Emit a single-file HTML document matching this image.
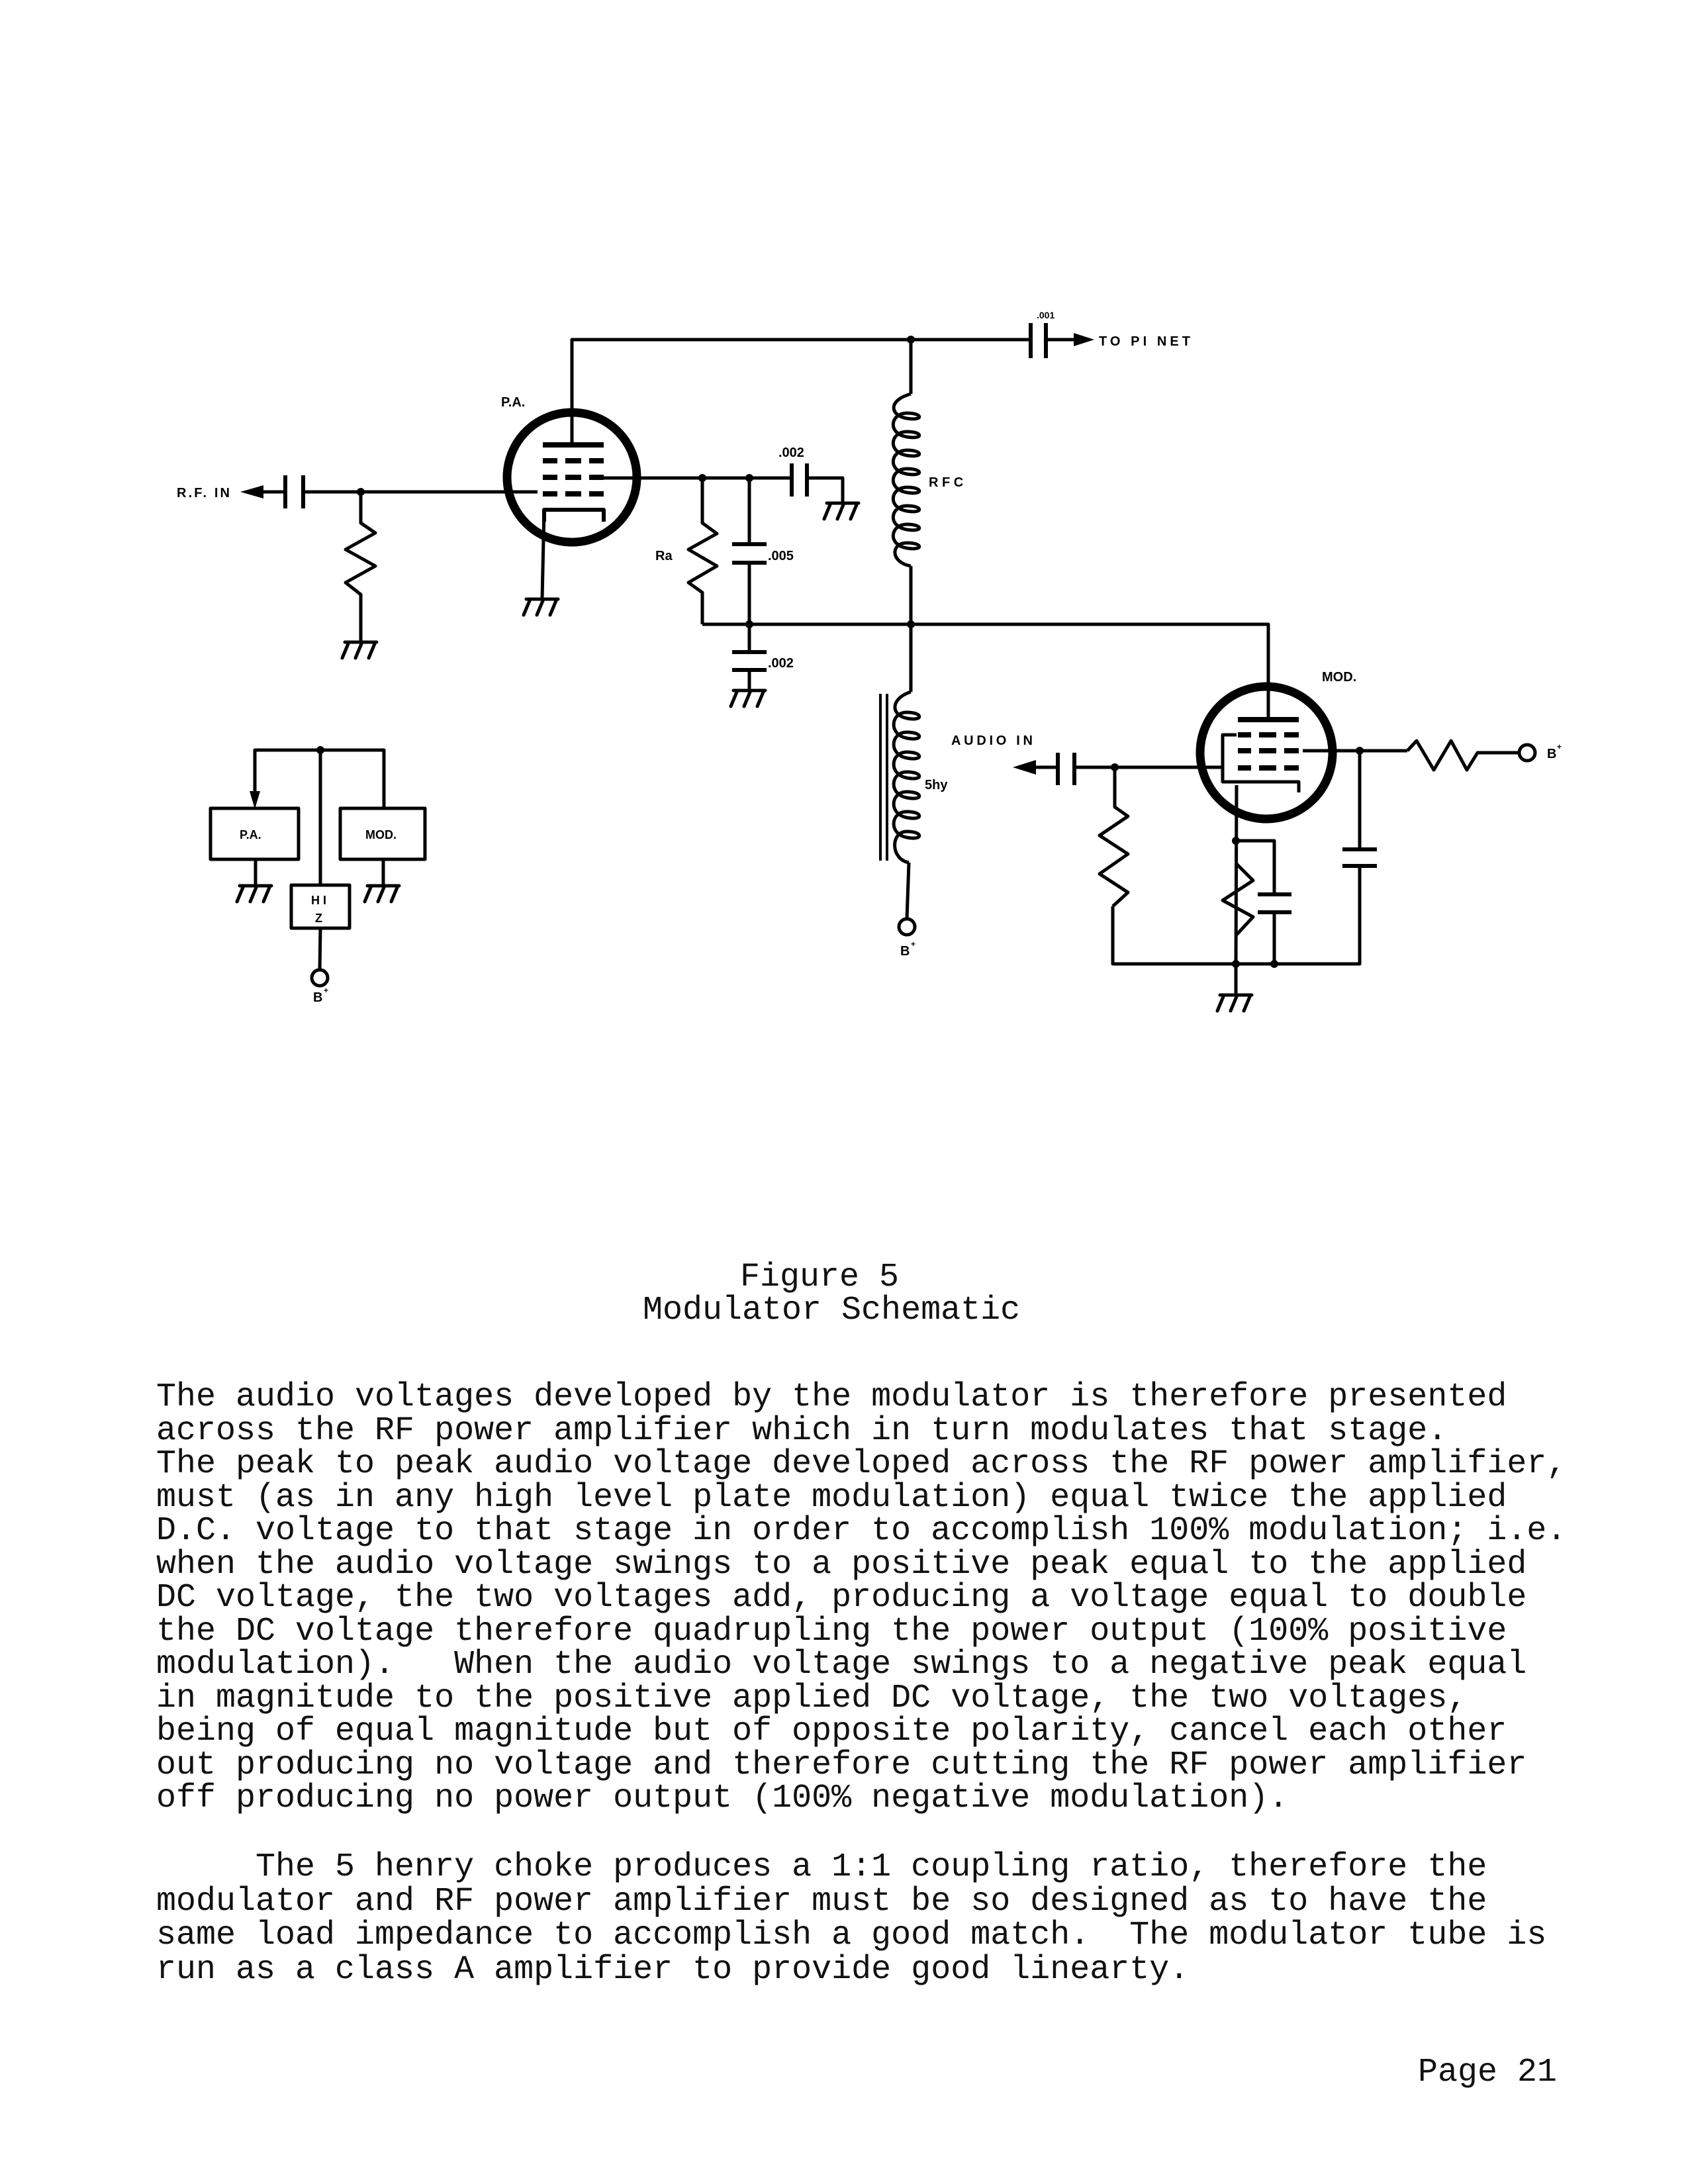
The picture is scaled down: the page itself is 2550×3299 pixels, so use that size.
<!DOCTYPE html>
<html><head><meta charset="utf-8"><style>
html,body{margin:0;padding:0;background:#fff;}
body{width:2550px;height:3299px;position:relative;overflow:hidden;}
.t{position:absolute;font-family:"Liberation Mono",monospace;font-size:50px;line-height:50px;white-space:pre;color:#111;}
svg{position:absolute;left:0;top:0;}
.lb{font-family:"Liberation Sans",sans-serif;font-weight:bold;fill:#000;}
</style></head><body>
<svg width="2550" height="1700" viewBox="0 0 2550 1700">
<defs>
<g id="gnd" stroke="#000" stroke-width="5" fill="none" stroke-linecap="round">
<line x1="-24" y1="0" x2="24" y2="0"/>
<line x1="-18" y1="0" x2="-28" y2="24"/>
<line x1="2" y1="0" x2="-8" y2="24"/>
<line x1="22" y1="0" x2="12" y2="24"/>
</g>
</defs>
<g stroke="#000" stroke-width="5" fill="none" stroke-linejoin="round">
<!-- top wire -->
<polyline points="864,632 864,513 1557,513"/>
<line x1="1580" y1="513" x2="1625" y2="513"/>
<line x1="1557" y1="488" x2="1557" y2="541" stroke-width="6"/>
<line x1="1580" y1="488" x2="1580" y2="541" stroke-width="6"/>
<!-- PA tube -->
<circle cx="864" cy="721" r="98" stroke-width="13"/>
<line x1="864" y1="632" x2="864" y2="672"/>
<line x1="820" y1="672" x2="912" y2="672" stroke-width="8"/>
<g stroke-width="8">
<line x1="820" y1="696" x2="842" y2="696"/><line x1="854" y1="696" x2="878" y2="696"/><line x1="890" y1="696" x2="912" y2="696"/>
<line x1="820" y1="721" x2="842" y2="721"/><line x1="854" y1="721" x2="878" y2="721"/><line x1="890" y1="721" x2="912" y2="721"/>
<line x1="820" y1="746" x2="842" y2="746"/><line x1="854" y1="746" x2="878" y2="746"/><line x1="890" y1="746" x2="912" y2="746"/>
</g>
<polyline points="822,788 822,770 912,770 912,788" stroke-width="6"/>
<line x1="822" y1="770" x2="819" y2="905"/>
<!-- grid input -->
<line x1="398" y1="743" x2="431" y2="743"/>
<line x1="431" y1="718" x2="431" y2="768" stroke-width="6"/>
<line x1="458" y1="718" x2="458" y2="768" stroke-width="6"/>
<line x1="458" y1="743" x2="812" y2="743"/>
<polyline points="545,743 545,790 567,805 522,830 567,855 522,880 545,898 545,970"/>
<!-- screen out -->
<line x1="900" y1="722" x2="1196" y2="722"/>
<line x1="1196" y1="700" x2="1196" y2="750" stroke-width="6"/>
<line x1="1219" y1="700" x2="1219" y2="750" stroke-width="6"/>
<polyline points="1219,722 1273,722 1273,760"/>
<!-- Ra -->
<polyline points="1061,722 1061,790 1083,806 1040,830 1083,855 1040,880 1061,895 1061,943"/>
<!-- .005 -->
<line x1="1132" y1="722" x2="1132" y2="822"/>
<line x1="1106" y1="822" x2="1158" y2="822" stroke-width="6"/>
<line x1="1106" y1="850" x2="1158" y2="850" stroke-width="6"/>
<line x1="1132" y1="850" x2="1132" y2="985"/>
<line x1="1106" y1="985" x2="1158" y2="985" stroke-width="6"/>
<line x1="1106" y1="1012" x2="1158" y2="1012" stroke-width="6"/>
<line x1="1132" y1="1012" x2="1132" y2="1043"/>
<!-- mid wire -->
<polyline points="1061,943 1916,943 1916,1036"/>
<!-- RFC -->
<line x1="1376" y1="513" x2="1376" y2="595"/>
<path d="M1376,595 C1340,605 1345,628 1370,632 C1395,636 1395,624 1370,624 C1345,624 1340,655 1370,660 C1395,664 1395,652 1370,652 C1345,652 1340,683 1370,688 C1395,692 1395,680 1370,680 C1345,680 1340,711 1370,716 C1395,720 1395,708 1370,708 C1345,708 1340,739 1370,744 C1395,748 1395,736 1370,736 C1345,736 1340,767 1370,772 C1395,776 1395,764 1370,764 C1345,764 1340,795 1370,800 C1395,804 1395,792 1370,792 C1345,792 1340,823 1370,828 C1395,832 1395,820 1370,820 C1345,820 1345,850 1376,855"/>
<line x1="1376" y1="855" x2="1376" y2="1045"/>
<!-- 5hy -->
<path d="M1376,1045 C1345,1055 1345,1080 1370,1085 C1395,1090 1395,1076 1370,1076 C1345,1076 1342,1110 1370,1115 C1395,1120 1395,1106 1370,1106 C1345,1106 1342,1140 1370,1145 C1395,1150 1395,1136 1370,1136 C1345,1136 1342,1170 1370,1175 C1395,1180 1395,1166 1370,1166 C1345,1166 1342,1200 1370,1205 C1395,1210 1395,1196 1370,1196 C1345,1196 1342,1230 1370,1235 C1395,1240 1395,1226 1370,1226 C1345,1226 1342,1260 1370,1265 C1395,1270 1395,1256 1370,1256 C1345,1256 1345,1298 1373,1303"/>
<line x1="1373" y1="1303" x2="1370" y2="1388"/>
<circle cx="1370" cy="1400" r="12"/>
<line x1="1330" y1="1048" x2="1330" y2="1300" stroke-width="4"/>
<line x1="1340" y1="1048" x2="1340" y2="1300" stroke-width="4"/>
<!-- MOD tube -->
<circle cx="1913" cy="1137" r="100" stroke-width="13"/>
<line x1="1916" y1="1036" x2="1916" y2="1087"/>
<line x1="1870" y1="1087" x2="1962" y2="1087" stroke-width="8"/>
<g stroke-width="8">
<line x1="1870" y1="1110" x2="1890" y2="1110"/><line x1="1902" y1="1110" x2="1928" y2="1110"/><line x1="1940" y1="1110" x2="1962" y2="1110"/>
<line x1="1870" y1="1134" x2="1890" y2="1134"/><line x1="1902" y1="1134" x2="1928" y2="1134"/><line x1="1940" y1="1134" x2="1962" y2="1134"/>
<line x1="1870" y1="1160" x2="1890" y2="1160"/><line x1="1902" y1="1160" x2="1928" y2="1160"/><line x1="1940" y1="1160" x2="1962" y2="1160"/>
</g>
<polyline points="1868,1110 1847,1110 1847,1181 1962,1181 1962,1197" stroke-width="5"/>
<line x1="1868" y1="1186" x2="1867" y2="1456"/>
<!-- screen out MOD -->
<line x1="1968" y1="1134" x2="2126" y2="1134"/>
<polyline points="2126,1134 2140,1119 2166,1163 2192,1119 2216,1163 2232,1137 2295,1137"/>
<circle cx="2307" cy="1137" r="12"/>
<line x1="2054" y1="1134" x2="2054" y2="1283"/>
<line x1="2028" y1="1283" x2="2080" y2="1283" stroke-width="6"/>
<line x1="2028" y1="1308" x2="2080" y2="1308" stroke-width="6"/>
<polyline points="2054,1308 2054,1456 1681,1456 1681,1369"/>
<!-- audio in -->
<line x1="1565" y1="1159" x2="1598" y2="1159"/>
<line x1="1598" y1="1137" x2="1598" y2="1186" stroke-width="6"/>
<line x1="1623" y1="1137" x2="1623" y2="1186" stroke-width="6"/>
<line x1="1623" y1="1159" x2="1847" y2="1159"/>
<polyline points="1684,1159 1684,1219 1704,1233 1661,1262 1704,1290 1661,1320 1704,1348 1681,1369"/>
<!-- cathode network -->
<polyline points="1867,1270 1925,1270 1925,1351"/>
<line x1="1900" y1="1351" x2="1951" y2="1351" stroke-width="6"/>
<line x1="1900" y1="1378" x2="1951" y2="1378" stroke-width="6"/>
<line x1="1925" y1="1378" x2="1925" y2="1456"/>
<polyline points="1867,1304 1893,1330 1847,1360 1893,1385 1867,1413" />
<line x1="1867" y1="1456" x2="1867" y2="1503"/>
<!-- block diagram -->
<polyline points="385,1200 385,1133 580,1133 580,1221"/>
<rect x="318" y="1221" width="133" height="77"/>
<rect x="514" y="1221" width="128" height="77"/>
<rect x="440" y="1337" width="88" height="65"/>
<line x1="484" y1="1133" x2="484" y2="1337"/>
<line x1="484" y1="1402" x2="483" y2="1465"/>
<circle cx="483" cy="1477" r="12"/>
<line x1="386" y1="1298" x2="386" y2="1338"/>
<line x1="579" y1="1298" x2="579" y2="1338"/>
</g>
<!-- arrowheads & dots -->
<g fill="#000">
<polygon points="363,743 398,733 398,753"/>
<polygon points="1653,513 1622,503 1622,523"/>
<polygon points="1530,1159 1565,1148 1565,1170"/>
<polygon points="385,1222 377,1195 393,1195"/>
<circle cx="1376" cy="513" r="6"/><circle cx="545" cy="743" r="6"/>
<circle cx="1061" cy="722" r="6"/><circle cx="1132" cy="722" r="6"/>
<circle cx="1132" cy="943" r="6"/><circle cx="1376" cy="943" r="6"/>
<circle cx="1684" cy="1159" r="6"/><circle cx="2054" cy="1134" r="6"/>
<circle cx="1867" cy="1270" r="6"/><circle cx="1867" cy="1456" r="6"/><circle cx="1925" cy="1456" r="6"/>
<circle cx="484" cy="1133" r="6"/>
</g>
<use href="#gnd" x="545" y="970"/>
<use href="#gnd" x="819" y="905"/>
<use href="#gnd" x="1273" y="760"/>
<use href="#gnd" x="1132" y="1043"/>
<use href="#gnd" x="1867" y="1503"/>
<use href="#gnd" x="386" y="1338"/>
<use href="#gnd" x="579" y="1338"/>
<!-- labels -->
<g class="lb" font-size="20">
<text x="267" y="751" textLength="80">R.F. IN</text>
<text x="1660" y="522" textLength="138">TO PI NET</text>
<text x="1566" y="481" font-size="14">.001</text>
<text x="757" y="614">P.A.</text>
<text x="1176" y="690">.002</text>
<text x="1403" y="735">R F C</text>
<text x="990" y="846">Ra</text>
<text x="1160" y="846">.005</text>
<text x="1160" y="1008">.002</text>
<text x="1997" y="1029">MOD.</text>
<text x="1437" y="1125" textLength="123">AUDIO IN</text>
<text x="1397" y="1192">5hy</text>
<text x="1360" y="1443">B</text><text x="1376" y="1430" font-size="12">+</text>
<text x="2337" y="1145">B</text><text x="2352" y="1132" font-size="12">+</text>
<text x="473" y="1513">B</text><text x="489" y="1500" font-size="12">+</text>
<text x="362" y="1267" font-size="18">P.A.</text>
<text x="552" y="1267" font-size="18">MOD.</text>
<text x="470" y="1366" font-size="18">H I</text>
<text x="476" y="1393" font-size="18">Z</text>
</g>
</svg>
<div class="t" style="left:1118px;top:1905px">Figure 5</div>
<div class="t" style="left:971px;top:1955px">Modulator Schematic</div>
<div class="t" style="left:236px;top:2086px;line-height:50.5px">The audio voltages developed by the modulator is therefore presented
across the RF power amplifier which in turn modulates that stage.
The peak to peak audio voltage developed across the RF power amplifier,
must (as in any high level plate modulation) equal twice the applied
D.C. voltage to that stage in order to accomplish 100% modulation; i.e.
when the audio voltage swings to a positive peak equal to the applied
DC voltage, the two voltages add, producing a voltage equal to double
the DC voltage therefore quadrupling the power output (100% positive
modulation).   When the audio voltage swings to a negative peak equal
in magnitude to the positive applied DC voltage, the two voltages,
being of equal magnitude but of opposite polarity, cancel each other
out producing no voltage and therefore cutting the RF power amplifier
off producing no power output (100% negative modulation).</div>
<div class="t" style="left:236px;top:2795px;line-height:51.7px">     The 5 henry choke produces a 1:1 coupling ratio, therefore the
modulator and RF power amplifier must be so designed as to have the
same load impedance to accomplish a good match.  The modulator tube is
run as a class A amplifier to provide good linearty.</div>
<div class="t" style="left:2142px;top:3106px">Page 21</div>
</body></html>
